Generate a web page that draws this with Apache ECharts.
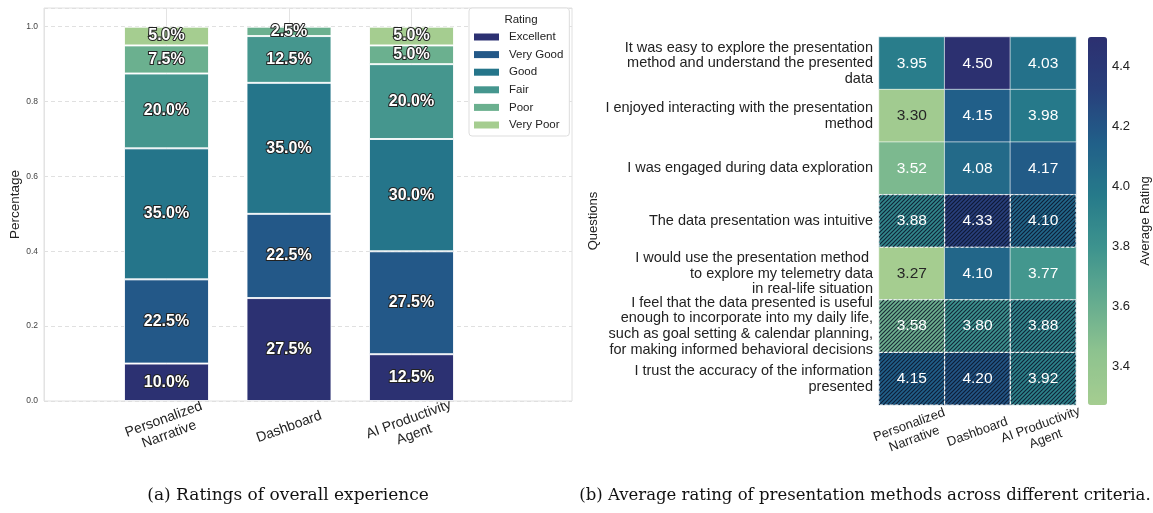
<!DOCTYPE html>
<html>
<head>
<meta charset="utf-8">
<script src="https://cdn.jsdelivr.net/npm/echarts@6/dist/echarts.min.js"></script>
<style>
  html, body { margin: 0; padding: 0; background: #fff; }
  #chart { width: 1153px; height: 513px; }
</style>
</head>
<body>
<div id="chart"></div>
<script>
// (a) share of each rating per presentation method
const methods = ['Personalized\nNarrative', 'Dashboard', 'AI Productivity\nAgent'];
const ratingLevels = ['Excellent', 'Very Good', 'Good', 'Fair', 'Poor', 'Very Poor'];
const excellent = [0.10, 0.275, 0.125];
const veryGood = [0.225, 0.225, 0.275];
const good = [0.35, 0.35, 0.30];
const fair = [0.20, 0.125, 0.20];
const poor = [0.075, 0.025, 0.05];
const veryPoor = [0.05, 0, 0.05];
const ratingShares = [excellent, veryGood, good, fair, poor, veryPoor];

// (b) average rating per question and method
const questions = [
  'It was easy to explore the presentation\nmethod and understand the presented\ndata',
  'I enjoyed interacting with the presentation\nmethod',
  'I was engaged during data exploration',
  'The data presentation was intuitive',
  'I would use the presentation method \nto explore my telemetry data\nin real-life situation',
  'I feel that the data presented is useful\nenough to incorporate into my daily life,\nsuch as goal setting & calendar planning,\nfor making informed behavioral decisions',
  'I trust the accuracy of the information\npresented'
];
const narrativeScores = [3.95, 3.30, 3.52, 3.88, 3.27, 3.58, 4.15];
const dashboardScores = [4.50, 4.15, 4.08, 4.33, 4.10, 3.80, 4.20];
const agentScores = [4.03, 3.98, 4.17, 4.10, 3.77, 3.88, 3.92];
const hatchedQuestions = [3, 5, 6];
const colorbarTicks = [3.4, 3.6, 3.8, 4.0, 4.2, 4.4];

const ratingColors = ['#2c3172', '#235888', '#25758a', '#45968e', '#6bb08f', '#a5cd90'];
const crestStops = ['#a5cd90', '#8ec38f', '#63ab8f', '#3d938e', '#267a8a', '#215f89', '#283f7b', '#2c3070'];
const scoreMin = 3.27, scoreMax = 4.50;
const sans = '"Liberation Sans", Arial, sans-serif';
const serif = '"DejaVu Serif", serif';

const chart = echarts.init(document.getElementById('chart'));

const heatData = [];
[narrativeScores, dashboardScores, agentScores].forEach((col, x) => {
  col.forEach((v, y) => heatData.push([x, y, v]));
});
const hatchData = heatData.filter(d => hatchedQuestions.includes(d[1]));

// diagonal hatch tile
const tile = document.createElement('canvas');
tile.width = 4; tile.height = 4;
const tg = tile.getContext('2d');
tg.strokeStyle = 'rgba(10,18,40,0.85)';
tg.lineWidth = 1.1;
tg.beginPath();
tg.moveTo(0, 4); tg.lineTo(4, 0);
tg.moveTo(-1, 1); tg.lineTo(1, -1);
tg.moveTo(3, 5); tg.lineTo(5, 3);
tg.stroke();

const labelColor = v => (v < 3.45 ? '#262626' : '#ffffff');

// bars sit on category points 1..3 (point 0 is the empty left margin)
const barSeries = ratingLevels.map((name, k) => ({
  name: name,
  type: 'bar',
  stack: 'total',
  xAxisIndex: 1,
  yAxisIndex: 1,
  barWidth: 85,
  data: ratingShares[k].map((v, i) => [i + 1, v > 0 ? v : '-']),
  itemStyle: { color: ratingColors[k], borderColor: 'rgba(255,255,255,0.85)', borderWidth: 1 },
  label: {
    show: true,
    position: 'inside',
    formatter: p => (p.value[1] * 100).toFixed(1) + '%',
    color: '#fff',
    fontSize: 16,
    fontWeight: 'bold',
    textBorderColor: '#222',
    textBorderWidth: 2
  }
}));

const option = {
  animation: false,
  textStyle: { fontFamily: sans },
  grid: [
    { left: 44, top: 8, width: 528, height: 393, show: true, borderColor: '#e0e0e0', borderWidth: 1 },
    { left: 44, top: 8, width: 367.5, height: 393 },
    { left: 879, top: 37, width: 197, height: 368 },
    { left: 1088, top: 37, width: 19, height: 368 }
  ],
  xAxis: [
    { type: 'value', gridIndex: 0, show: false, min: 0, max: 1 },
    {
      type: 'category', gridIndex: 1, data: [''].concat(methods), boundaryGap: false,
      axisLine: { show: false }, axisTick: { show: false },
      splitLine: { show: true, lineStyle: { color: '#e3e3e3', type: 'solid' } },
      axisLabel: {
        rotate: 20, align: 'center', verticalAlign: 'middle', margin: 26,
        fontSize: 14, color: '#222', lineHeight: 16, interval: 0
      }
    },
    {
      type: 'category', gridIndex: 2, data: methods,
      axisLine: { show: false }, axisTick: { show: false }, splitLine: { show: false },
      axisLabel: {
        rotate: 20, align: 'center', verticalAlign: 'middle', margin: 27,
        fontSize: 13, color: '#222', lineHeight: 15, interval: 0
      }
    },
    { type: 'value', gridIndex: 3, show: false, min: 0, max: 1 }
  ],
  yAxis: [
    {
      type: 'value', gridIndex: 0, min: 0, max: 1.05, interval: 0.2,
      axisLine: { show: false }, axisTick: { show: false },
      splitLine: { lineStyle: { color: '#e0e0e0', type: [4, 3] } },
      axisLabel: { formatter: v => v.toFixed(1), fontSize: 8.5, color: '#444', margin: 6, showMaxLabel: false },
      name: 'Percentage', nameLocation: 'middle', nameGap: 20,
      nameTextStyle: { fontSize: 13.5, color: '#222' }
    },
    { type: 'value', gridIndex: 1, show: false, min: 0, max: 1.05 },
    {
      type: 'category', gridIndex: 2, data: questions, inverse: true,
      axisLine: { show: false }, axisTick: { show: false }, splitLine: { show: false },
      axisLabel: { fontSize: 14.5, lineHeight: 15.6, color: '#222', margin: 6, align: 'right', interval: 0 },
      name: 'Questions', nameLocation: 'middle', nameGap: 279,
      nameTextStyle: { fontSize: 13, color: '#222' }
    },
    {
      type: 'value', gridIndex: 3, min: scoreMin, max: scoreMax, position: 'right',
      axisLine: { show: false }, splitLine: { show: false },
      axisTick: { show: true, length: 4, customValues: colorbarTicks, lineStyle: { color: '#333' } },
      axisLabel: { customValues: colorbarTicks, formatter: v => v.toFixed(1), fontSize: 13, color: '#222', margin: 5 },
      name: 'Average Rating', nameLocation: 'middle', nameRotate: 90, nameGap: 32,
      nameTextStyle: { fontSize: 13, color: '#222' }
    }
  ],
  legend: {
    data: ratingLevels,
    orient: 'vertical',
    left: 469, top: 8,
    padding: [22, 6, 4, 5],
    itemWidth: 25, itemHeight: 7, itemGap: 3.6,
    icon: 'rect',
    itemStyle: { borderWidth: 0 },
    textStyle: { fontSize: 11.5, color: '#222', lineHeight: 14, padding: [0, 0, 0, 5] },
    backgroundColor: '#fff',
    borderColor: '#dddddd', borderWidth: 1, borderRadius: 3
  },
  visualMap: {
    type: 'continuous',
    min: scoreMin, max: scoreMax,
    seriesIndex: 6,
    calculable: false,
    left: 1088, top: 37, padding: 0,
    itemWidth: 19, itemHeight: 368,
    inRange: { color: crestStops },
    text: null
  },
  graphic: [
    { type: 'text', z: 100, x: 521, y: 20, style: { text: 'Rating', fontSize: 11.5, fill: '#222', align: 'center', verticalAlign: 'middle', fontFamily: sans } },
    { type: 'text', x: 288, y: 496, style: { text: '(a) Ratings of overall experience', fontSize: 17, fill: '#111', align: 'center', verticalAlign: 'middle', fontFamily: serif } },
    { type: 'text', x: 865, y: 496, style: { text: '(b) Average rating of presentation methods across different criteria.', fontSize: 16.5, fill: '#111', align: 'center', verticalAlign: 'middle', fontFamily: serif } }
  ],
  series: barSeries.concat([
    {
      name: 'Average Rating',
      type: 'heatmap',
      xAxisIndex: 2, yAxisIndex: 2,
      data: heatData,
      itemStyle: { borderColor: 'rgba(255,255,255,0.6)', borderWidth: 1 },
      label: {
        show: true,
        formatter: p => (hatchedQuestions.includes(p.value[1]) ? '' : (p.value[2] < 3.45 ? '{d|' : '{w|') + p.value[2].toFixed(2) + '}'),
        rich: {
          d: { color: '#262626', fontSize: 15.5 },
          w: { color: '#ffffff', fontSize: 15.5 }
        }
      }
    },
    {
      type: 'custom',
      xAxisIndex: 2, yAxisIndex: 2,
      data: hatchData,
      z: 5,
      renderItem: (params, api) => {
        const c = api.coord([api.value(0), api.value(1)]);
        const s = api.size([1, 1]);
        const v = api.value(2);
        return {
          type: 'group',
          children: [
            {
              type: 'rect',
              shape: { x: c[0] - s[0] / 2, y: c[1] - s[1] / 2, width: s[0], height: s[1] },
              style: { fill: { image: tile, repeat: 'repeat' }, stroke: 'rgba(255,255,255,0.85)', lineWidth: 1, lineDash: [3, 2] }
            },
            {
              type: 'text',
              x: c[0], y: c[1],
              style: { text: v.toFixed(2), fill: labelColor(v), fontSize: 15.5, align: 'center', verticalAlign: 'middle', fontFamily: sans }
            }
          ]
        };
      }
    }
  ])
};

chart.setOption(option);
</script>
</body>
</html>
